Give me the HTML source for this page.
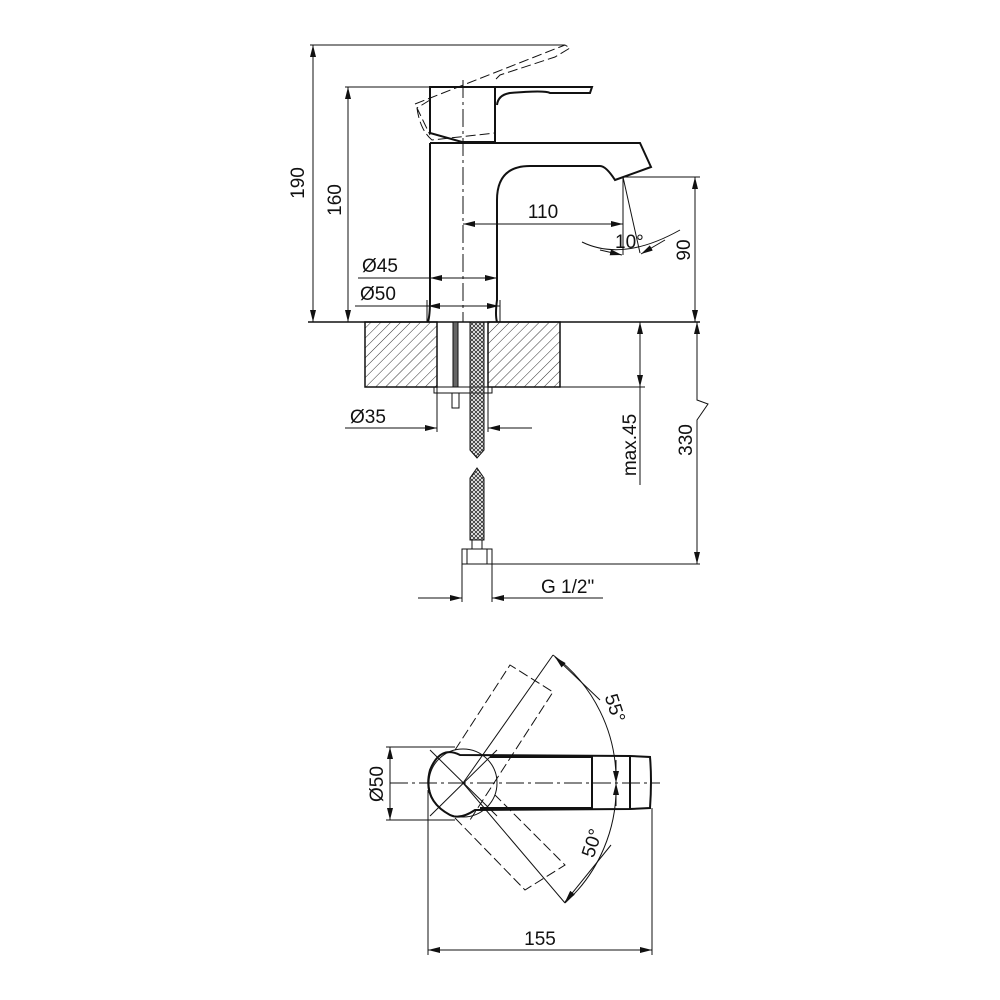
<!DOCTYPE html>
<html><head><meta charset="utf-8"><style>body{margin:0;background:#fff}svg{display:block}text{font-family:"Liberation Sans",sans-serif;font-size:19px;fill:#111}</style></head><body>
<svg width="1000" height="1000" viewBox="0 0 1000 1000" xmlns="http://www.w3.org/2000/svg">
<defs>
<marker id="a" viewBox="0 0 12 6" refX="12" refY="3" markerWidth="12" markerHeight="6" orient="auto-start-reverse" markerUnits="userSpaceOnUse"><path d="M0,0L12,3L0,6z" fill="#111"/></marker>
<pattern id="h" width="7" height="7" patternUnits="userSpaceOnUse" patternTransform="rotate(45)"><line x1="0" y1="0" x2="0" y2="7" stroke="#333" stroke-width="1"/></pattern>
<pattern id="br" width="4" height="4" patternUnits="userSpaceOnUse"><path d="M0,0L4,4M4,0L0,4" stroke="#333" stroke-width="0.9"/></pattern>
</defs>
<g fill="none" stroke="#111" stroke-width="1">
<g stroke-width="2">
<path d="M430,143 V300 Q430,315 428,322 M497,322 Q495,315 497,300 V200 Q497,166 530,166 H600 Q606,166 615,180 L651,167 L640,143 H430"/>
<path d="M430,87 V133 L462,142 H495 V87 Z"/>
<path d="M495,87 H592 L590,93 L550,93 Q545,90 510,93 Q498,95 497,105"/>
</g>
<path d="M415,104 L565,45 L570,48 L555,57 L500,75 L495,80 M430,100 L417,108 L430,135 M417,108 Q420,130 432,140 L495,133" stroke-dasharray="10,4"/>
<line x1="463" y1="80" x2="463" y2="322" stroke-dasharray="18,4,3,4"/>
<line x1="310" y1="45" x2="565" y2="45"/>
<line x1="313" y1="45" x2="313" y2="322" marker-start="url(#a)" marker-end="url(#a)"/>
<line x1="345" y1="87" x2="430" y2="87"/>
<line x1="348" y1="87" x2="348" y2="322" marker-start="url(#a)" marker-end="url(#a)"/>
<line x1="625" y1="177" x2="700" y2="177"/>
<line x1="695" y1="177" x2="695" y2="322" marker-start="url(#a)" marker-end="url(#a)"/>
<line x1="463" y1="224" x2="623" y2="224" marker-start="url(#a)" marker-end="url(#a)"/>
<line x1="623" y1="177" x2="623" y2="255"/><line x1="623" y1="177" x2="640" y2="253"/>
<path d="M582,242 Q623,262 680,230" />
<line x1="600" y1="250" x2="622" y2="255" marker-end="url(#a)"/>
<line x1="665" y1="240" x2="641" y2="254" marker-end="url(#a)"/>
<line x1="358" y1="278" x2="495" y2="278"/>
<line x1="440" y1="278" x2="430" y2="278" marker-end="url(#a)"/>
<line x1="485" y1="278" x2="497" y2="278" marker-end="url(#a)"/>
<line x1="355" y1="306" x2="500" y2="306"/>
<line x1="440" y1="306" x2="428" y2="306" marker-end="url(#a)"/>
<line x1="485" y1="306" x2="499" y2="306" marker-end="url(#a)"/>
<line x1="427" y1="300" x2="427" y2="322"/><line x1="500" y1="300" x2="500" y2="322"/>
<line x1="308" y1="322" x2="700" y2="322" stroke-width="1.5"/>
<rect x="365" y="322" width="72" height="65" fill="url(#h)" stroke-width="1.5"/>
<rect x="488" y="322" width="72" height="65" fill="url(#h)" stroke-width="1.5"/>
<rect x="453" y="322" width="5" height="65" fill="#666"/>
<rect x="452" y="393" width="7" height="15"/>
<rect x="434" y="387" width="58" height="6"/>
<path d="M470,322 V450 L477,458 L484,450 V322 Z" fill="url(#br)"/>
<path d="M470,540 V478 L477,468 L484,478 V540 Z" fill="url(#br)"/>
<rect x="472" y="540" width="10" height="9"/>
<rect x="462" y="549" width="30" height="15"/><line x1="467" y1="549" x2="467" y2="564"/><line x1="487" y1="549" x2="487" y2="564"/>
<line x1="437" y1="387" x2="437" y2="432"/><line x1="488" y1="387" x2="488" y2="432"/>
<line x1="345" y1="428" x2="437" y2="428" marker-end="url(#a)"/>
<line x1="532" y1="428" x2="488" y2="428" marker-end="url(#a)"/>
<line x1="560" y1="387" x2="645" y2="387"/>
<line x1="640" y1="322" x2="640" y2="387" marker-start="url(#a)" marker-end="url(#a)"/>
<line x1="640" y1="387" x2="640" y2="485"/>
<line x1="492" y1="564" x2="700" y2="564"/>
<path d="M697,324 V400 L708,404 L697,420 V562" />
<line x1="697" y1="330" x2="697" y2="322" marker-end="url(#a)"/>
<line x1="697" y1="550" x2="697" y2="564" marker-end="url(#a)"/>
<line x1="462" y1="564" x2="462" y2="602"/><line x1="492" y1="564" x2="492" y2="602"/>
<line x1="418" y1="598" x2="462" y2="598" marker-end="url(#a)"/>
<line x1="603" y1="598" x2="492" y2="598" marker-end="url(#a)"/>
<g stroke-width="2">
<path d="M460,755 Q440,745 430,770 Q422,800 450,815 Q460,820 475,810 L630,809 L650,808 Q652,780 650,757 L630,756 Z"/>
<path d="M490,757 L592,757 V808 L480,808"/>
<line x1="630" y1="756" x2="630" y2="809"/>
</g>
<circle cx="463" cy="783" r="34"/>
<line x1="430" y1="750" x2="497" y2="816"/><line x1="430" y1="816" x2="497" y2="750"/>
<line x1="390" y1="783" x2="660" y2="783" stroke-dasharray="18,4,3,4"/>
<path d="M455,750 L510,665 L553,692 L470,820" stroke-dasharray="10,4"/>
<path d="M455,818 L525,890 L565,865 L495,795" stroke-dasharray="10,4"/>
<line x1="463" y1="783" x2="553" y2="655"/><line x1="463" y1="783" x2="565" y2="903"/>
<path d="M553,655 A155,155 0 0 1 616,783 A155,155 0 0 1 565,903"/>
<line x1="600" y1="700" x2="555" y2="657" marker-end="url(#a)"/>
<line x1="611" y1="845" x2="565" y2="902" marker-end="url(#a)"/>
<line x1="616" y1="760" x2="616" y2="783" marker-end="url(#a)"/>
<line x1="616" y1="806" x2="616" y2="783" marker-end="url(#a)"/>
<line x1="386" y1="747" x2="455" y2="747"/><line x1="386" y1="820" x2="455" y2="820"/>
<line x1="390" y1="747" x2="390" y2="820" marker-start="url(#a)" marker-end="url(#a)"/>
<line x1="428" y1="790" x2="428" y2="955"/><line x1="652" y1="808" x2="652" y2="955"/>
<line x1="428" y1="950" x2="652" y2="950" marker-start="url(#a)" marker-end="url(#a)"/>
</g>
<text x="304" y="183" transform="rotate(-90 304 183)" text-anchor="middle">190</text>
<text x="341" y="200" transform="rotate(-90 341 200)" text-anchor="middle">160</text>
<text x="543" y="218" text-anchor="middle">110</text>
<text x="615" y="248">10°</text>
<text x="690" y="250" transform="rotate(-90 690 250)" text-anchor="middle">90</text>
<text x="362" y="272">Ø45</text>
<text x="360" y="300">Ø50</text>
<text x="350" y="423">Ø35</text>
<text x="636" y="445" transform="rotate(-90 636 445)" text-anchor="middle">max.45</text>
<text x="692" y="440" transform="rotate(-90 692 440)" text-anchor="middle">330</text>
<text x="541" y="593">G 1/2"</text>
<text x="609" y="710" transform="rotate(72 609 710)" text-anchor="middle">55°</text>
<text x="598" y="845" transform="rotate(-72 598 845)" text-anchor="middle">50°</text>
<text x="383" y="784" transform="rotate(-90 383 784)" text-anchor="middle">Ø50</text>
<text x="540" y="945" text-anchor="middle">155</text>
</svg>
</body></html>
